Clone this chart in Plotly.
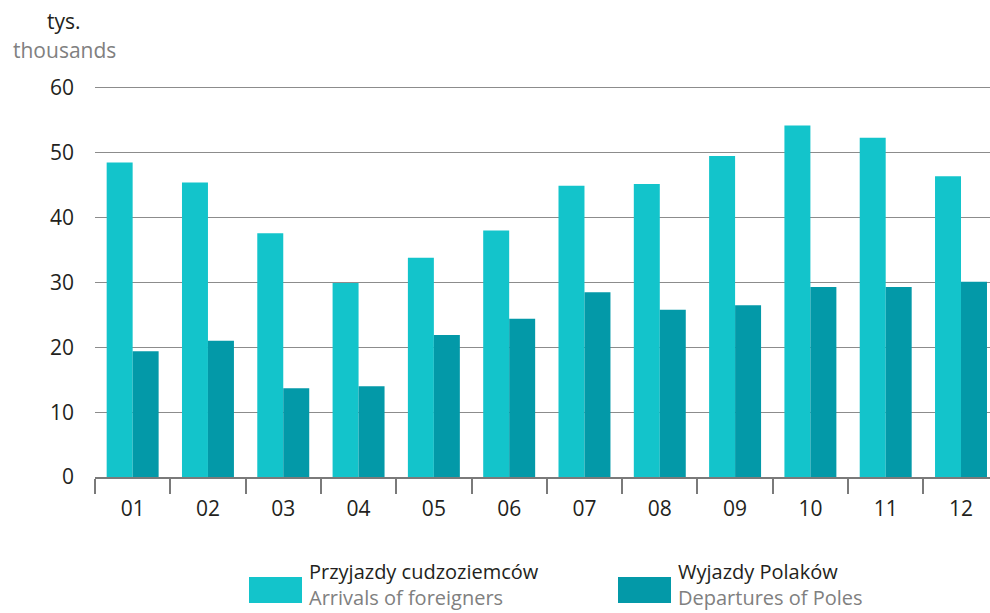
import plotly.graph_objects as go

# Monthly border traffic, thousands
months = ["01", "02", "03", "04", "05", "06", "07", "08", "09", "10", "11", "12"]
arrivals = [48.5, 45.4, 37.6, 29.9, 33.8, 38.0, 44.9, 45.2, 49.5, 54.2, 52.3, 46.4]
departures = [19.4, 21.0, 13.7, 14.0, 21.9, 24.4, 28.5, 25.8, 26.5, 29.3, 29.3, 30.1]

series_pl = ["Przyjazdy cudzoziemców", "Wyjazdy Polaków"]
series_en = ["Arrivals of foreigners", "Departures of Poles"]
colors = ["#13c4cb", "#0399a8"]

y_ticks = [0, 10, 20, 30, 40, 50, 60]

FONT = "Open Sans"
DARK = "#231f20"
GREY = "#808080"
FS = 21
FS_LEG = 20

W, H = 990, 613
L, R, T, B = 95, 0, 86, 136
PW, PH = W - L - R, H - T - B
Y_TOP = 60.3  # a little headroom so the 60 gridline is drawn


def px(x):
    """Horizontal pixel -> plot-area paper fraction."""
    return (x - L) / PW


def py(y):
    """Vertical pixel (from top) -> plot-area paper fraction."""
    return (H - B - y) / PH


fig = go.Figure()
for vals, name, col in zip([arrivals, departures], series_pl, colors):
    fig.add_trace(go.Bar(x=months, y=vals, name=name, marker_color=col,
                         marker_line_width=0, showlegend=False))

fig.update_layout(
    width=W, height=H,
    margin=dict(l=L, r=R, t=T, b=B),
    paper_bgcolor="white", plot_bgcolor="white",
    barmode="group", bargap=0.31, bargroupgap=0,
    font=dict(family=FONT, size=FS, color=DARK),
    xaxis=dict(
        type="category", range=[-0.5, 11.385],
        showgrid=False, showline=True, linecolor="#7a7a7a", linewidth=1.5,
        ticks="outside", tickson="boundaries", ticklen=15,
        tickcolor="#7a7a7a", tickwidth=1.5,
        tickfont=dict(size=FS, color=DARK), ticklabelstandoff=12,
    ),
    yaxis=dict(
        range=[0, Y_TOP], tickvals=y_ticks, showgrid=True,
        gridcolor="#8c8c8c", gridwidth=1, zeroline=False, showline=False,
        ticks="", ticklabelstandoff=20,
        tickfont=dict(size=FS, color=DARK),
    ),
)

# Unit label above the value axis
fig.add_annotation(text="tys.", xref="paper", yref="paper",
                   x=px(64), y=py(21), xanchor="center", yanchor="middle",
                   showarrow=False, font=dict(size=FS, color=DARK))
fig.add_annotation(text="thousands", xref="paper", yref="paper",
                   x=px(64), y=py(50), xanchor="center", yanchor="middle",
                   showarrow=False, font=dict(size=FS, color=GREY))

# Bilingual legend: colour box plus Polish / English labels
legend_x = [249, 618]
for lx, pl, en, col in zip(legend_x, series_pl, series_en, colors):
    fig.add_shape(type="rect", xref="paper", yref="paper",
                  x0=px(lx), x1=px(lx + 53),
                  y0=py(603), y1=py(577),
                  fillcolor=col, line_width=0)
    fig.add_annotation(text=f"{pl}<br><span style='color:{GREY}'>{en}</span>",
                       xref="paper", yref="paper",
                       x=px(lx + 58), y=py(584), align="left",
                       xanchor="left", yanchor="middle", showarrow=False,
                       font=dict(size=FS_LEG, color=DARK))

fig.write_html("out.html")
